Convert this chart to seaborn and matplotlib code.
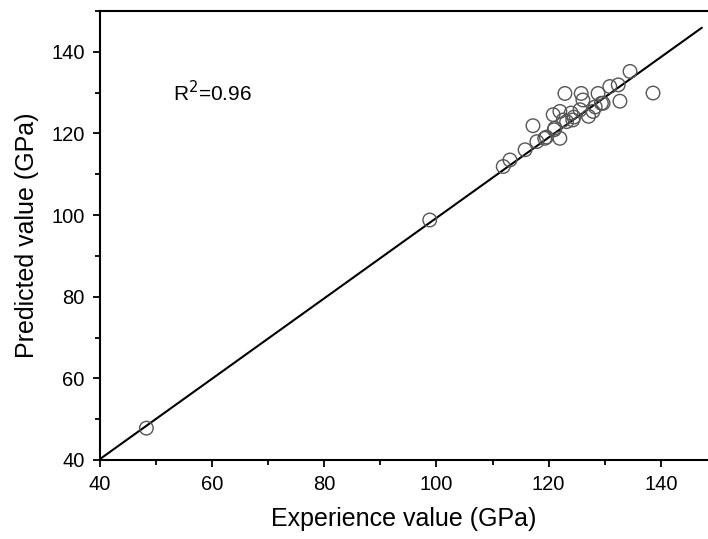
import matplotlib
matplotlib.use("Agg")
import matplotlib.pyplot as plt
import seaborn as sns
import pandas as pd
from matplotlib.ticker import MultipleLocator

experience = [48.3, 98.8, 111.9, 113.1, 115.8, 117.9, 119.6, 122.0, 117.2, 121.1,
              122.6, 124.3, 120.8, 122.0, 124.0, 125.6, 127.1, 127.9, 129.4, 130.9,
              132.4, 132.7, 128.8, 126.1, 125.8, 122.9, 134.5, 138.6, 121.0, 124.5,
              128.3, 119.3, 123.2, 129.7]
predicted = [47.8, 98.8, 111.9, 113.5, 116.0, 118.0, 119.1, 118.8, 121.9, 121.3,
             123.3, 123.3, 124.6, 125.4, 125.0, 125.8, 124.2, 125.4, 127.4, 131.5,
             131.9, 127.9, 129.8, 128.2, 129.8, 129.8, 135.2, 129.9, 120.9, 124.0,
             126.5, 118.8, 122.9, 127.4]
fit_x = [40.0, 147.3]
fit_y = [40.2, 145.9]

df = pd.DataFrame({"Experience": experience, "Predicted": predicted})
fit = pd.DataFrame({"x": fit_x, "y": fit_y})

sns.set_style("ticks")
plt.rcParams['font.family'] = ['Liberation Sans', 'DejaVu Sans']
plt.rcParams['text.color'] = 'black'
plt.rcParams['axes.labelcolor'] = 'black'
plt.rcParams['xtick.color'] = 'black'
plt.rcParams['ytick.color'] = 'black'

fig = plt.figure(figsize=(7.08, 5.39), dpi=100)
ax = fig.add_axes([0.141, 0.1466, 0.859, 0.833])

sns.lineplot(data=fit, x="x", y="y", ax=ax, color="black", linewidth=1.5)
sns.scatterplot(data=df, x="Experience", y="Predicted", ax=ax, s=95,
                facecolor="none", edgecolor="#555555", linewidth=1.0, zorder=3)

ax.set_xlim(40, 148.4)
ax.set_ylim(40, 150)
ax.xaxis.set_major_locator(MultipleLocator(20))
ax.xaxis.set_minor_locator(MultipleLocator(10))
ax.yaxis.set_major_locator(MultipleLocator(20))
ax.yaxis.set_minor_locator(MultipleLocator(10))
ax.tick_params(which="major", direction="out", length=5, width=1.3, labelsize=14.5,
               color="black", labelcolor="black", pad=6)
ax.tick_params(which="minor", direction="out", length=3.5, width=1.3, color="black")
for side in ["left", "bottom", "top"]:
    ax.spines[side].set_linewidth(1.5)
    ax.spines[side].set_color("black")
ax.spines["right"].set_visible(False)

ax.set_xlabel("Experience value (GPa)", fontsize=18, labelpad=9)
ax.set_ylabel("Predicted value (GPa)", fontsize=18, labelpad=9)
ax.text(60, 130, r"R$^{2}$=0.96", fontsize=15, ha="center", va="center",
        transform=ax.transData)

fig.savefig("out.png", dpi=100)
